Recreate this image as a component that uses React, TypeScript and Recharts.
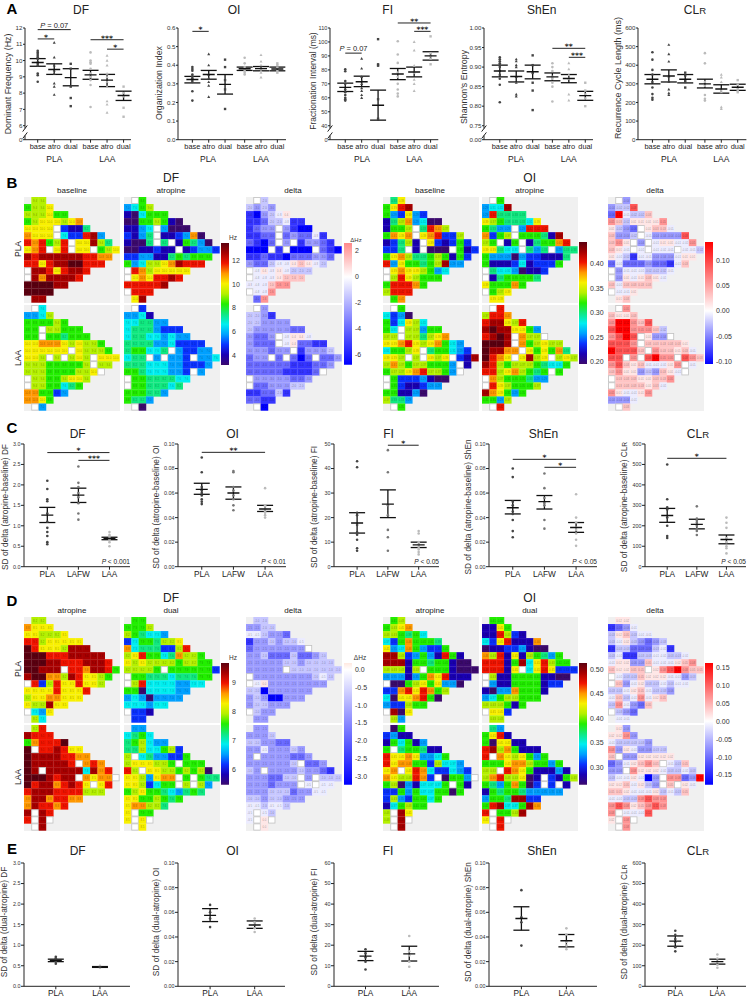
import React from "react";
import {
  ScatterChart,
  Scatter,
  XAxis,
  YAxis,
  ErrorBar,
  ReferenceLine,
  ReferenceDot,
  ReferenceArea,
} from "recharts";

const FONT = "'Liberation Sans', Arial, sans-serif";

// heatmap palettes, indexed by the level characters in the grids below
const JET = [
  "#3c0a6e", "#1a00b4", "#0a32ff", "#00a0ff", "#00eef0", "#10e880", "#22ee00",
  "#b4f000", "#f8f000", "#ff9800", "#f01400", "#a80000", "#5c0010",
];
const DIVERGE = [
  "#0000ff", "#3434ff", "#6a6aff", "#9a9aff", "#c6c6ff", "#ececff", "#ffe6e6",
  "#ffc4c4", "#ff9494", "#ff5454", "#ff0000",
];

// value printed in a cell for each level
const bDfValues = [4.0, 5.0, 6.0, 7.0, 7.6, 8.2, 8.8, 9.4, 10.0, 10.8, 11.6, 12.6, 13.2];
const dDfValues = [5.8, 6.2, 6.6, 7.0, 7.3, 7.6, 7.9, 8.2, 8.5, 8.8, 9.1, 9.4, 9.6];
const bOiValues = [0.21, 0.24, 0.26, 0.29, 0.31, 0.33, 0.35, 0.37, 0.39, 0.41, 0.42, 0.43, 0.44];
const dOiValues = [0.28, 0.3, 0.33, 0.35, 0.37, 0.39, 0.41, 0.43, 0.45, 0.46, 0.48, 0.49, 0.51];
const bDfDeltaValues = [-6.2, -5.0, -4.0, -3.0, -2.0, -0.8, 0.4, 1.0, 1.6, 2.0, 2.4];
const dDfDeltaValues = [-3.0, -2.6, -2.0, -1.5, -1.0, -0.5, 0.0, 0.1, 0.1, 0.2, 0.2];
const bOiDeltaValues = [-0.1, -0.08, -0.06, -0.04, -0.02, -0.01, 0.01, 0.03, 0.05, 0.08, 0.12];
const dOiDeltaValues = [-0.17, -0.13, -0.09, -0.06, -0.03, -0.01, 0.02, 0.05, 0.08, 0.11, 0.15];

// grids: '.' no electrode, 'w' empty electrode, otherwise a hex level
const bDfBasePla = [".77", "6778", "777866", "67888789", "8888w2115", "9888w422ab3", "a9a67aw88b75", "89aw8aw88w678", "babbbbbbaa99", "aa8abbccaaa", "wbba8abba", "wb9bbbba", "ccccbb", "cccc", ".bb"];
const bDfAtroPla = [".w6", "3467", "104666", "00667610", "1134w3000", "2135w112390", "1005w5w16530", "0011211w12332", "223311565666", "6347789baaa", "wa9788888", "w898aaba", "aaaaab", "waaa", ".8b"];
const bDfDeltaPla = [".w4", "4343", "103456", "11244511", "1233w3100", "1122w232251", "2102w3w13321", "000w1w000w210", "112110222332", "32245567654", "w56565444", "w5556777", "555788", "w558", ".28"];
const bDfBaseLaa = [".w4", "3347", "666676", "66w77666", "66w665666", "88999878776", "888888w87776", "887w7w787w888", "777666667w77", "7776666778w", "w77667887", "w7766456", "996623", "9986", ".w3"];
const bDfAtroLaa = [".w2", "3341", "445533", "45553222", "455443433", "55553342222", "566445w32233", "455w3w332w334", "555444332223", "665444332w3", "w66555544", "w6655545", "666553", "6553", ".w0"];
const bDfDeltaLaa = [".w3", "4431", "443333", "43333322", "3223w5665", "3222w562211", "333233w13334", "233w2w202w223", "222222111223", "2222211112w", "w33333223", "w2233344", "112241", "2211", ".w0"];
const bOiBasePla = [".58", "68ab", "632832", "15793400", "1667w5a97", "6989w89a227", "12571w821262", "225w1w000w612", "689755676162", "a3866567b33", "w89887634", "w7a87666", "6aaa96", "7aaa", ".69"];
const bOiAtroPla = [".w6", "344b", "3a5555", "87655548", "6533w3aaa", "9267w66651b", "76w16w15669a", "88544w535w355", "633303221115", "61112412226", "w54430112", "w1566665", "866696", "w678", ".88"];
const bOiDeltaPla = [".w3", "3449", "2a5447", "87466668", "6432w6775", "7334w533339", "786w3w566558", "765w5w555w554", "654155333566", "25222322157", "w35554445", "w3656765", "757777", "w556", ".67"];
const bOiBaseLaa = [".w6", "4230", "624874", "64w77366", "77w775789", "889a8789643", "46678w566432", "887w7w878w21b", "7976776663w1", "67789a7763w", "w62223100", "w6211233", "661130", "7553", ".w6"];
const bOiAtroLaa = [".wa", "7aa9", "abb87a", "bcbb8863", "abcbw977w", "cccbw967877", "cbb99w868695", "ca98w8b78w787", "ba7677765446", "aa7897656w6", "w97666533", "wa876667", "b98636", "6637", ".wa"];
const bOiDeltaLaa = [".w8", "7667", "8aa879", "9aa88874", "89a9w633w", "9998w777776", "a9997w877675", "99w8w9a88w987", "8976755568w5", "7866343765w", "w77766778", "w7777675", "865568", "3335", ".w7"];

const dDfAtroPla = [".77", "9888", "887778", "aa788888", "ca8887bbb", "cccaaabbbbb", "cccbbaaabbba", "ccbbbwaa9bba6", "bcc997ba8876", "wa27a88a887", "8888a888a", "78899888", "877b88", "w438", ".74"];
const dDfDualPla = [".66", "6667", "765443", "24665778", "94555227a", "78a66459776", "878777767766", "77776w6666662", "w66555455566", "w7a44443344", "660444433", "34303333", "444344", "w221", ".22"];
const dDfDeltaPla = [".44", "3344", "554332", "13343445", "23333333w", "33422242234", "333334434444", "33333w4444444", "w33333333454", "w5633333333", "440333333", "34300333", "344333", "w433", ".33"];
const dDfAtroLaa = [".7a", "baaa", "69aaac", "cwaaba88", "cbbbbaa99", "cbbbbbaw9a9", "cbwbbbbb4b9a", "cccbabbw9899w", "cabb9aba8w8a", "abbbaaaa777", "9bb9aa99", "9baa9a", "bwba", "awbw", ".wb"];
const dDfDualLaa = [".33", "4564", "567433", "55744672", "7w4533226", "7888776w666", "a7w887767670", "8873899w6w655", "8872466w7w73", "67866543565", "88667656", "899775", "8w66", "8w8w", ".w8"];
const dDfDeltaLaa = [".33", "3334", "443322", "33533343", "3w3333223", "3333334w223", "43w333343321", "3332244w3w444", "3332333w5w55", "33344423355", "44344333", "554554", "5w54", "5w6w", ".w6"];
const dOiAtroPla = [".67", "6789", "776564", "42696665", "834963226", "bb723631a61", "bbb166566100", "77717w6661000", "33313698a111", "w0067868330", "229a8a967", "40889a60", "322766", "wb08", ".73"];
const dOiDualPla = [".66", "1186", "11a721", "428a1119", "011223100", "97a18176536", "aaa16b48a766", "aaa18w48a8222", "w71166661100", "w3116666122", "103396661", "34677666", "777616", "w882", ".77"];
const dOiDeltaPla = [".66", "1235", "467455", "45643234", "144222451", "45114455445", "566337555678", "76677w689a877", "w54476665534", "w7356445455", "445675443", "57458567", "485327", "w432", ".55"];
const dOiAtroLaa = [".06", "2311", "164613", "6w566511", "a88983346", "a8996627443", "89w8a9422432", "9877a92w0663w", "670314446w61", "22636446606", "27326646", "146766", "7wb8", "7wbw", ".wb"];
const dOiDualLaa = [".53", "68a1", "608811", "ab796111", "aw9878636", "66689976636", "77wa98611131", "79a77801w2167", "65369602w2w1", "16566533333", "3665bb22", "6ab446b9", "aw667b", "8waw", ".wa"];
const dOiDeltaLaa = [".63", "6683", "544443", "83653344", "7w3366666", "2356787w547", "33w866654454", "4556503w8823a", "6675643w7w65", "77655564547", "55448988", "89867898", "8w5559", "6w8w", ".w8"];

// panel A: dots per group, then mean, upper and lower whisker
const aPositions = [1, 2, 3, 4.2, 5.2, 6.2];
const aLabels = ["base", "atro", "dual", "base", "atro", "dual"];
const aDfPoints = [
  [10.6, 10.5, 10.4, 10.3, 10.2, 10.1, 9.9, 9.8, 9.7, 9.2, 9.1, 8.7],
  [11.1, 10.2, 9.7, 9.4, 9.2, 8.6, 8.4, 7.9],
  [9.8, 9.5, 8.4, 7.7, 7.2],
  [10.5, 10, 9.9, 9.8, 9.5, 9.2, 9, 8.8, 8.5, 7.15],
  [10.3, 10, 9.7, 9.2, 9, 8.7, 8.4, 7.5, 7.3, 6.8],
  [8.4, 8, 7.8, 7.1, 6.55],
];
const aDfMean = [9.88, 9.45, 8.95, 9.12, 8.8, 7.85];
const aDfHigh = [10.12, 9.8, 9.5, 9.4, 9.15, 8.12];
const aDfLow = [9.65, 9.15, 8.45, 8.85, 8.4, 7.55];
const aOiPoints = [
  [0.39, 0.38, 0.37, 0.35, 0.34, 0.33, 0.32, 0.31, 0.26, 0.21],
  [0.46, 0.4, 0.35, 0.33, 0.31, 0.29, 0.23],
  [0.43, 0.39, 0.32, 0.27, 0.165],
  [0.44, 0.41, 0.39, 0.38, 0.37, 0.36, 0.35],
  [0.455, 0.42, 0.4, 0.38, 0.37, 0.36, 0.335],
  [0.41, 0.4, 0.385, 0.37, 0.36],
];
const aOiMean = [0.323, 0.35, 0.297, 0.381, 0.382, 0.38];
const aOiHigh = [0.34, 0.372, 0.35, 0.39, 0.393, 0.39];
const aOiLow = [0.305, 0.325, 0.245, 0.372, 0.37, 0.37];
const aFiPoints = [
  [80.5, 79, 72, 70, 66, 64, 62, 60, 59, 58],
  [88, 81, 75, 72, 70, 67, 65, 62, 60],
  [102, 84, 83, 59, 45],
  [100.5, 91, 85, 78, 75, 70, 66, 63, 61],
  [100, 94, 83, 78, 73, 70, 65],
  [104, 92, 90, 88, 84],
];
const aFiMean = [67.5, 71.5, 54.7, 77, 78.5, 90];
const aFiHigh = [70.5, 75.5, 65.5, 81, 82, 93];
const aFiLow = [64.5, 68, 44, 73, 75, 87];
const aShEnPoints = [
  [0.925, 0.92, 0.915, 0.91, 0.905, 0.9, 0.89, 0.88, 0.87, 0.855, 0.81],
  [0.92, 0.915, 0.905, 0.9, 0.875, 0.86, 0.83, 0.825],
  [0.93, 0.905, 0.885, 0.86, 0.84, 0.79],
  [0.91, 0.9, 0.89, 0.875, 0.87, 0.86, 0.85, 0.812],
  [0.91, 0.895, 0.88, 0.87, 0.83, 0.815],
  [0.86, 0.84, 0.83, 0.82, 0.8],
];
const aShEnMean = [0.89, 0.876, 0.888, 0.875, 0.871, 0.827];
const aShEnHigh = [0.905, 0.89, 0.905, 0.885, 0.881, 0.838];
const aShEnLow = [0.875, 0.862, 0.87, 0.865, 0.86, 0.815];
const aClrPoints = [
  [470, 430, 375, 350, 310, 280, 245, 225, 215],
  [510, 460, 420, 340, 310, 270, 250, 240],
  [360, 345, 320, 310, 280],
  [465, 410, 310, 290, 240, 220, 210],
  [350, 335, 310, 265, 255, 175, 165],
  [320, 295, 275, 265, 255],
];
const aClrMean = [325, 342, 325, 300, 272, 282];
const aClrHigh = [350, 375, 350, 325, 295, 298];
const aClrLow = [300, 310, 305, 278, 250, 265];

// panel C
const cPositions = [1, 2, 3];
const cLabels = ["PLA", "LAFW", "LAA"];
const cDfPoints = [
  [2.1, 1.9, 1.65, 1.6, 1.3, 1.1, 0.95, 0.85, 0.75, 0.6, 0.55],
  [2.45, 2.05, 1.95, 1.8, 1.7, 1.55, 1.3, 1.15],
  [0.85, 0.78, 0.75, 0.7, 0.68, 0.65, 0.6, 0.5],
];
const cDfMean = [1.26, 1.75, 0.69];
const cDfHigh = [1.45, 1.92, 0.72];
const cDfLow = [1.08, 1.57, 0.66];
const cOiPoints = [
  [0.089, 0.077, 0.065, 0.063, 0.062, 0.06, 0.058, 0.055, 0.053, 0.051],
  [0.078, 0.077, 0.065, 0.062, 0.058, 0.055, 0.05, 0.046],
  [0.064, 0.05, 0.049, 0.047, 0.045, 0.044, 0.042, 0.04],
];
const cOiMean = [0.063, 0.06, 0.047];
const cOiHigh = [0.068, 0.065, 0.05];
const cOiLow = [0.059, 0.055, 0.045];
const cFiPoints = [
  [43, 40.5, 22, 21, 17, 14, 13, 11, 7.5, 6.5],
  [47.5, 38.5, 25, 21, 15, 12, 6.5],
  [14.5, 13.5, 10, 9, 8, 7, 6, 5],
];
const cFiMean = [17.8, 25.5, 8.9];
const cFiHigh = [22, 31.3, 10];
const cFiLow = [13.7, 20, 7.8];
const cShEnPoints = [
  [0.08, 0.073, 0.053, 0.05, 0.045, 0.043, 0.038, 0.029, 0.024],
  [0.076, 0.064, 0.056, 0.052, 0.05, 0.038, 0.031],
  [0.059, 0.04, 0.036, 0.032, 0.03, 0.027, 0.022, 0.017],
];
const cShEnMean = [0.048, 0.053, 0.032];
const cShEnHigh = [0.054, 0.058, 0.036];
const cShEnLow = [0.043, 0.047, 0.028];
const cClrPoints = [
  [500, 330, 290, 280, 240, 200, 150, 140],
  [295, 235, 225, 215, 200, 185, 175, 155],
  [240, 215, 190, 140, 120, 100, 90, 65],
];
const cClrMean = [250, 207, 133];
const cClrHigh = [285, 232, 155];
const cClrLow = [217, 185, 112];

// panel E
const ePositions = [1, 2];
const eLabels = ["PLA", "LAA"];
const eDfPoints = [[0.72, 0.68, 0.65, 0.62, 0.6, 0.55], [0.5, 0.48, 0.47, 0.45]];
const eDfMean = [0.63, 0.47];
const eDfHigh = [0.66, 0.48];
const eDfLow = [0.6, 0.46];
const eOiPoints = [[0.066, 0.06, 0.055, 0.048], [0.055, 0.052, 0.05, 0.047, 0.044]];
const eOiMean = [0.0575, 0.0497];
const eOiHigh = [0.063, 0.053];
const eOiLow = [0.0525, 0.047];
const eFiPoints = [[18, 16, 14, 12, 8.2], [24.5, 17, 15, 12, 9.5]];
const eFiMean = [14.7, 15.8];
const eFiHigh = [17, 19.5];
const eFiLow = [12.5, 12.3];
const eShEnPoints = [[0.078, 0.056, 0.052, 0.033], [0.047, 0.042, 0.036, 0.033, 0.03]];
const eShEnMean = [0.055, 0.037];
const eShEnHigh = [0.0645, 0.042];
const eShEnLow = [0.0455, 0.032];
const eClrPoints = [[270, 250, 230, 215, 190, 170], [155, 135, 120, 105, 90]];
const eClrMean = [220, 120];
const eClrHigh = [245, 132];
const eClrLow = [195, 108];

const sdDfTicks = [0, 0.5, 1, 1.5, 2, 2.5, 3];
const sdOiTicks = [0, 0.02, 0.04, 0.06, 0.08, 0.1];
const sdFiTicks = [0, 10, 20, 30, 40, 50];
const sdClrTicks = [0, 100, 200, 300, 400, 500, 600];

const CLR = (
  <>
    CL<span style={{ fontSize: "80%" }}>R</span>
  </>
);

function Txt({ x, y, size = 8, bold = false, rotate = false, color = "#222", children }: any) {
  return (
    <div
      style={{
        position: "absolute",
        left: x,
        top: y,
        fontSize: size,
        fontWeight: bold ? 700 : 400,
        color,
        whiteSpace: "nowrap",
        lineHeight: 1,
        transform: `translate(-50%, -50%)${rotate ? " rotate(-90deg)" : ""}`,
      }}
    >
      {children}
    </div>
  );
}

function MeanLine(props: any) {
  const { cx, cy } = props;
  return <line x1={cx - 6} x2={cx + 6} y1={cy} y2={cy} stroke="#111" strokeWidth={1.4} />;
}

function marker(kind: string) {
  return (p: any) => {
    const { cx, cy, fill } = p;
    if (kind === "triangle") {
      return <path d={`M${cx} ${cy - 1.6}L${cx + 1.5} ${cy + 1.1}L${cx - 1.5} ${cy + 1.1}Z`} fill={fill} />;
    }
    if (kind === "square") {
      return <rect x={cx - 1.2} y={cy - 1.2} width={2.4} height={2.4} fill={fill} />;
    }
    return <circle cx={cx} cy={cy} r={1.3} fill={fill} />;
  };
}
const circleMark = marker("circle");
const triangleMark = marker("triangle");
const squareMark = marker("square");

function note(text: any, size: number, anchor = "middle", lift = 2, family = FONT, weight = 400) {
  return (p: any) => (
    <text
      x={p.cx}
      y={p.cy - lift}
      textAnchor={anchor as any}
      fontSize={size}
      fontWeight={weight}
      fill="#222"
      fontFamily={family}
    >
      {text}
    </text>
  );
}

const pEq = (
  <>
    <tspan fontStyle="italic">P</tspan> = 0.07
  </>
);
const pLess = (v: string) => (
  <>
    <tspan fontStyle="italic">P</tspan> {"<"} {v}
  </>
);

function DotPanel({
  left, right, top, bottom, domain, xDomain, ticks, digits, zero, positions, labels, points,
  mean, high, low, brackets = [], corner, tickSize = 6.5, labelSize = 7.5, markers, fills, tickLen = 3,
}: any) {
  const mTop = 20;
  const yw = 26;
  const plotH = bottom - top;
  const broken = zero !== undefined;
  const span = broken ? ticks[1] - ticks[0] : 0;
  const base = ticks[0];
  return (
    <div style={{ position: "absolute", left: left - yw, top: top - mTop }}>
      <ScatterChart
        width={right - left + yw + 4}
        height={mTop + plotH + 16}
        margin={{ top: mTop, right: 4, bottom: 0, left: 0 }}
        style={{ overflow: "visible" }}
      >
        <XAxis
          type="number"
          dataKey="x"
          domain={xDomain}
          ticks={positions}
          interval={0}
          tickFormatter={(v: number) => labels[positions.indexOf(v)]}
          tick={{ fontSize: labelSize, fill: "#222" }}
          tickSize={3}
          tickMargin={1}
          stroke="#222"
          height={16}
          allowDataOverflow
        />
        <YAxis
          type="number"
          dataKey="y"
          domain={domain}
          ticks={ticks}
          interval={0}
          width={yw}
          tickFormatter={(v: number) => (broken && v === base ? zero : v.toFixed(digits))}
          tick={{ fontSize: tickSize, fill: "#333" }}
          tickSize={tickLen}
          tickMargin={0.5}
          axisLine={!broken}
          stroke="#222"
          allowDataOverflow
        />
        {broken && (
          <ReferenceLine
            segment={[{ x: xDomain[0], y: base + span * 0.8 }, { x: xDomain[0], y: domain[1] }]}
            stroke="#222"
            ifOverflow="visible"
          />
        )}
        {broken && (
          <ReferenceLine
            segment={[{ x: xDomain[0], y: base }, { x: xDomain[0], y: base + span * 0.3 }]}
            stroke="#222"
            ifOverflow="visible"
          />
        )}
        {broken &&
          [0.3, 0.8].map((f) => (
            <ReferenceLine
              key={f}
              segment={[
                { x: xDomain[0] - 0.14 * ((xDomain[1] - xDomain[0]) / 6.4), y: base + span * (f - 0.22) },
                { x: xDomain[0] + 0.14 * ((xDomain[1] - xDomain[0]) / 6.4), y: base + span * (f + 0.22) },
              ]}
              stroke="#222"
              ifOverflow="visible"
            />
          ))}
        {points.map((vals: number[], g: number) => (
          <Scatter
            key={g}
            data={vals.map((y) => ({ x: positions[g], y }))}
            shape={markers ? markers[g] : circleMark}
            fill={fills[g]}
            isAnimationActive={false}
          />
        ))}
        <Scatter
          data={positions.map((x: number, i: number) => ({
            x,
            y: mean[i],
            err: [mean[i] - low[i], high[i] - mean[i]],
          }))}
          shape={MeanLine}
          isAnimationActive={false}
        >
          <ErrorBar dataKey="err" direction="y" width={8} stroke="#111" strokeWidth={1.3} isAnimationActive={false} />
        </Scatter>
        {brackets.map((b: any, i: number) => (
          <ReferenceLine
            key={i}
            segment={[{ x: b.from, y: b.y }, { x: b.to, y: b.y }]}
            stroke="#222"
            strokeWidth={1}
            ifOverflow="visible"
          />
        ))}
        {brackets.map((b: any, i: number) => (
          <ReferenceDot
            key={i}
            x={(b.from + b.to) / 2}
            y={b.y}
            r={0}
            ifOverflow="visible"
            shape={
              b.size
                ? note(b.text, b.size, "middle", b.lift ?? 2)
                : note(b.text, 7.6, "middle", -0.8, "'DejaVu Sans', sans-serif", 700)
            }
          />
        ))}
        {corner && (
          <ReferenceDot
            x={xDomain[1]}
            y={domain[0]}
            r={0}
            ifOverflow="visible"
            shape={note(corner, 6.6, "end", 3)}
          />
        )}
      </ScatterChart>
    </div>
  );
}

function Cell(props: any) {
  const { cx, cy, payload } = props;
  const { color, label } = payload;
  const w = payload.cw;
  const h = payload.ch;
  if (label === null) {
    return <rect x={cx - w / 2 + 0.4} y={cy - h / 2 + 0.4} width={w - 0.8} height={h - 0.8} fill="#fff" stroke="#c0c0c0" strokeWidth={0.8} />;
  }
  return (
    <g>
      <rect x={cx - w / 2} y={cy - h / 2} width={w + 0.2} height={h + 0.2} fill={color} />
      <text x={cx} y={cy + 1} textAnchor="middle" fontSize={2.8} fill="#000" fillOpacity={0.4} fontFamily={FONT}>
        {label}
      </text>
    </g>
  );
}

const PANEL_W = 95.5;
const PANEL_H = 105.5;

function Heatmap({ left, top, rows, palette, values, digits }: any) {
  const cw = PANEL_W / 13;
  const ch = PANEL_H / 15;
  const data: any[] = [];
  rows.forEach((row: string, r: number) => {
    row.split("").forEach((c: string, i: number) => {
      if (c === ".") return;
      const level = c === "w" ? -1 : parseInt(c, 16);
      data.push({
        col: i + 0.5,
        row: r + 0.5,
        cw,
        ch,
        color: level < 0 ? "#fff" : palette[level],
        label: level < 0 ? null : values[level].toFixed(digits),
      });
    });
  });
  return (
    <div style={{ position: "absolute", left, top, width: PANEL_W, height: PANEL_H, background: "#f0f0f0" }}>
      <ScatterChart width={PANEL_W} height={PANEL_H} margin={{ top: 0, right: 0, bottom: 0, left: 0 }}>
        <XAxis type="number" dataKey="col" domain={[0, 13]} hide />
        <YAxis type="number" dataKey="row" domain={[0, 15]} reversed hide />
        <Scatter data={data} shape={Cell} isAnimationActive={false} />
      </ScatterChart>
    </div>
  );
}

const noMark = () => null;

function ColorBar({ id, left, top, bottom, domain, ticks, digits, stops, colors }: any) {
  const stopList: any[] = stops ?? colors.map((c: string, i: number) => [1 - i / (colors.length - 1), c]).reverse();
  return (
    <div style={{ position: "absolute", left, top }}>
      <ScatterChart
        width={38}
        height={bottom - top}
        margin={{ top: 0, right: 0, bottom: 0, left: 0 }}
      >
        <defs>
          <linearGradient id={id} x1="0" y1="0" x2="0" y2="1">
            {stopList.map(([off, c]: any, i: number) => (
              <stop key={i} offset={off} stopColor={c} />
            ))}
          </linearGradient>
        </defs>
        <XAxis type="number" dataKey="x" domain={[0, 1]} hide />
        <YAxis
          type="number"
          dataKey="y"
          orientation="right"
          domain={domain}
          ticks={ticks}
          interval={0}
          width={30}
          axisLine={false}
          tickLine={false}
          tickSize={0}
          tickMargin={3}
          tickFormatter={(v: number) => v.toFixed(digits)}
          tick={{ fontSize: 7, fill: "#333" }}
        />
        <Scatter
          data={[{ x: 0, y: domain[0] }, { x: 1, y: domain[1] }]}
          shape={noMark}
          isAnimationActive={false}
        />
        <ReferenceArea x1={0} x2={1} y1={domain[0]} y2={domain[1]} fill={`url(#${id})`} fillOpacity={1} stroke="none" />
      </ScatterChart>
    </div>
  );
}

// vertical gradient stops for a delta scale, white at zero
function deltaStops(domain: number[], topColor: string) {
  const zero = domain[1] / (domain[1] - domain[0]);
  return [[0, topColor], [zero, "#ffffff"], [1, "#0000ff"]];
}

const aMarkers = [circleMark, triangleMark, squareMark, circleMark, triangleMark, squareMark];
const aFills = ["#444", "#444", "#444", "#bbb", "#bbb", "#bbb"];
const cFills = ["#444", "#777", "#bbb"];
const eFills = ["#444", "#bbb"];

const aX = { positions: aPositions, labels: aLabels, markers: aMarkers, fills: aFills, top: 27.6, bottom: 139.3, labelSize: 7.4, tickLen: 2, tickSize: 6.2 };
const cX = { positions: cPositions, labels: cLabels, fills: cFills, xDomain: [0.25, 3.66], top: 444, bottom: 566.7, tickSize: 5.4, labelSize: 8.3 };
const eX = { positions: ePositions, labels: eLabels, fills: eFills, xDomain: [0.28, 2.68], top: 862.7, bottom: 986, tickSize: 5.4, labelSize: 8.3 };

export default function App() {
  return (
    <div
      style={{
        position: "absolute",
        left: 0,
        top: 0,
        width: 752,
        height: 999,
        overflow: "hidden",
        background: "#fff",
        fontFamily: FONT,
      }}
    >
      {/* panel letters */}
      <Txt x={12} y={8} size={15} bold color="#000">A</Txt>
      <Txt x={12} y={182} size={15} bold color="#000">B</Txt>
      <Txt x={12} y={427} size={15} bold color="#000">C</Txt>
      <Txt x={12} y={600} size={15} bold color="#000">D</Txt>
      <Txt x={12} y={848} size={15} bold color="#000">E</Txt>

      {/* A */}
      {[["DF", 81], ["OI", 234], ["FI", 387.7], ["ShEn", 541.7], [CLR, 695]].map(([t, x]: any, i) => (
        <Txt key={i} x={x} y={10} size={12}>{t}</Txt>
      ))}
      {[54.3, 208, 362, 516, 669].map((x) => (
        <Txt key={x} x={x} y={159} size={8.5}>PLA</Txt>
      ))}
      {[107.3, 261, 414.3, 568.7, 721.3].map((x) => (
        <Txt key={x} x={x} y={159} size={8.5}>LAA</Txt>
      ))}
      <Txt x={8} y={84} size={8.8} rotate color="#333">Dominant Frequency (Hz)</Txt>
      <Txt x={159} y={83} size={8.8} rotate color="#333">Organization Index</Txt>
      <Txt x={312.5} y={81} size={8.4} rotate color="#333">Fractionation Interval (ms)</Txt>
      <Txt x={464} y={87} size={8.8} rotate color="#333">Shannon's Entropy</Txt>
      <Txt x={618} y={78} size={9} rotate color="#333">Recurrence Cycle Length (ms)</Txt>
      <DotPanel
        {...aX}
        left={25}
        right={131}
        domain={[5.14, 12]}
        xDomain={[0.23, 6.65]}
        ticks={[5.14, 6, 7, 8, 9, 10, 11, 12]}
        digits={0}
        zero="0"
        points={aDfPoints}
        mean={aDfMean}
        high={aDfHigh}
        low={aDfLow}
        brackets={[
          { from: 1, to: 3, y: 11.9, text: pEq, size: 7.5, lift: 2 },
          { from: 1, to: 2, y: 11.33, text: "*" },
          { from: 4.2, to: 6.2, y: 11.28, text: "***" },
          { from: 5.2, to: 6.2, y: 10.7, text: "*" },
        ]}
      />
      <DotPanel
        {...aX}
        left={178}
        right={286}
        domain={[0, 0.6]}
        xDomain={[0.12, 6.73]}
        ticks={[0, 0.1, 0.2, 0.3, 0.4, 0.5, 0.6]}
        digits={1}
        points={aOiPoints}
        mean={aOiMean}
        high={aOiHigh}
        low={aOiLow}
        brackets={[{ from: 1, to: 2, y: 0.582, text: "*" }]}
      />
      <DotPanel
        {...aX}
        left={330}
        right={438.3}
        domain={[30, 110]}
        xDomain={[0.07, 6.67]}
        ticks={[30, 40, 50, 60, 70, 80, 90, 100, 110]}
        digits={0}
        zero="0"
        tickSize={5.6}
        points={aFiPoints}
        mean={aFiMean}
        high={aFiHigh}
        low={aFiLow}
        brackets={[
          { from: 1, to: 2, y: 92, text: pEq, size: 7.5, lift: 2 },
          { from: 4.2, to: 6.2, y: 113.6, text: "**" },
          { from: 5.2, to: 6.2, y: 107.6, text: "***" },
        ]}
      />
      <DotPanel
        {...aX}
        left={484.3}
        right={593.3}
        domain={[0.7143, 1]}
        xDomain={[0.04, 6.67]}
        ticks={[0.7143, 0.75, 0.8, 0.85, 0.9, 0.95, 1]}
        digits={2}
        zero="0.00"
        points={aShEnPoints}
        mean={aShEnMean}
        high={aShEnHigh}
        low={aShEnLow}
        brackets={[
          { from: 4.2, to: 6.2, y: 0.948, text: "**" },
          { from: 5.2, to: 6.2, y: 0.925, text: "***" },
        ]}
      />
      <DotPanel
        {...aX}
        left={638.3}
        right={746.7}
        domain={[0, 600]}
        xDomain={[0.12, 6.73]}
        ticks={[0, 100, 200, 300, 400, 500, 600]}
        digits={0}
        points={aClrPoints}
        mean={aClrMean}
        high={aClrHigh}
        low={aClrLow}
      />

      {/* B */}
      <Txt x={171} y={178} size={12}>DF</Txt>
      <Txt x={529.7} y={178} size={12}>OI</Txt>
      {[["baseline", 72], ["atropine", 171], ["delta", 293], ["baseline", 430], ["atropine", 529.7], ["delta", 655]].map(([t, x]: any, i) => (
        <Txt key={i} x={x} y={190.7} size={8}>{t}</Txt>
      ))}
      <Txt x={17.7} y={249.3} size={8.5} rotate>PLA</Txt>
      <Txt x={17.7} y={357.7} size={8.5} rotate>LAA</Txt>
      <Heatmap left={24.3} top={197} rows={bDfBasePla} palette={JET} values={bDfValues} digits={1} />
      <Heatmap left={124} top={197} rows={bDfAtroPla} palette={JET} values={bDfValues} digits={1} />
      <Heatmap left={246} top={197} rows={bDfDeltaPla} palette={DIVERGE} values={bDfDeltaValues} digits={1} />
      <Heatmap left={24.3} top={305} rows={bDfBaseLaa} palette={JET} values={bDfValues} digits={1} />
      <Heatmap left={124} top={305} rows={bDfAtroLaa} palette={JET} values={bDfValues} digits={1} />
      <Heatmap left={246} top={305} rows={bDfDeltaLaa} palette={DIVERGE} values={bDfDeltaValues} digits={1} />
      <Heatmap left={383} top={197} rows={bOiBasePla} palette={JET} values={bOiValues} digits={2} />
      <Heatmap left={482} top={197} rows={bOiAtroPla} palette={JET} values={bOiValues} digits={2} />
      <Heatmap left={608} top={197} rows={bOiDeltaPla} palette={DIVERGE} values={bOiDeltaValues} digits={2} />
      <Heatmap left={383} top={305} rows={bOiBaseLaa} palette={JET} values={bOiValues} digits={2} />
      <Heatmap left={482} top={305} rows={bOiAtroLaa} palette={JET} values={bOiValues} digits={2} />
      <Heatmap left={608} top={305} rows={bOiDeltaLaa} palette={DIVERGE} values={bOiDeltaValues} digits={2} />
      <Txt x={233} y={238} size={6.5} color="#333">Hz</Txt>
      <Txt x={356} y={240} size={6} color="#333">ΔHz</Txt>
      <ColorBar id="bDf" left={221} top={242.7} bottom={364.7} domain={[3.18, 13.46]} ticks={[4, 6, 8, 10, 12]} digits={0} colors={JET} />
      <ColorBar id="bDfD" left={343.7} top={243} bottom={364.7} domain={[-6.75, 2.6]} ticks={[-6, -4, -2, 0, 2]} digits={0} stops={deltaStops([-6.75, 2.6], "#ff8a8a")} />
      <ColorBar id="bOi" left={579.3} top={241.7} bottom={363.7} domain={[0.195, 0.444]} ticks={[0.2, 0.25, 0.3, 0.35, 0.4]} digits={2} colors={JET} />
      <ColorBar id="bOiD" left={704.7} top={241.7} bottom={363.7} domain={[-0.105, 0.136]} ticks={[-0.1, -0.05, 0, 0.05, 0.1]} digits={2} stops={deltaStops([-0.105, 0.136], "#ff0000")} />

      {/* C */}
      {[["DF", 77.7], ["OI", 232.6], ["FI", 388.5], ["ShEn", 543.4], [CLR, 698]].map(([t, x]: any, i) => (
        <Txt key={i} x={x} y={434} size={12}>{t}</Txt>
      ))}
      <Txt x={5} y={507} size={8.3} rotate color="#333">SD of delta (atropine-baseline) DF</Txt>
      <Txt x={156} y={507} size={8.3} rotate color="#333">SD of delta (atropine-baseline) OI</Txt>
      <Txt x={314} y={507} size={8.3} rotate color="#333">SD of delta (atropine-baseline) FI</Txt>
      <Txt x={468} y={507} size={8.3} rotate color="#333">SD of delta (atropine-baseline) ShEn</Txt>
      <Txt x={623.5} y={507} size={8.3} rotate color="#333">SD of delta (atropine-baseline) {CLR}</Txt>
      <DotPanel {...cX} left={24} right={130} domain={[0, 3]} ticks={sdDfTicks} digits={1} points={cDfPoints} mean={cDfMean} high={cDfHigh} low={cDfLow} corner={pLess("0.001")}
        brackets={[{ from: 1, to: 3, y: 2.79, text: "*" }, { from: 2, to: 3, y: 2.6, text: "***" }]} />
      <DotPanel {...cX} left={178} right={286} domain={[0, 0.1]} ticks={sdOiTicks} digits={2} points={cOiPoints} mean={cOiMean} high={cOiHigh} low={cOiLow} corner={pLess("0.01")}
        brackets={[{ from: 1, to: 3, y: 0.0932, text: "**" }]} />
      <DotPanel {...cX} left={334} right={439} domain={[0, 50]} ticks={sdFiTicks} digits={0} points={cFiPoints} mean={cFiMean} high={cFiHigh} low={cFiLow} corner={pLess("0.05")}
        brackets={[{ from: 2, to: 3, y: 49.5, text: "*" }]} />
      <DotPanel {...cX} left={489} right={597} domain={[0, 0.1]} ticks={sdOiTicks} digits={2} points={cShEnPoints} mean={cShEnMean} high={cShEnHigh} low={cShEnLow} corner={pLess("0.05")}
        brackets={[{ from: 1, to: 3, y: 0.0875, text: "*" }, { from: 2, to: 3, y: 0.081, text: "*" }]} />
      <DotPanel {...cX} left={645} right={746} domain={[0, 600]} ticks={sdClrTicks} digits={0} points={cClrPoints} mean={cClrMean} high={cClrHigh} low={cClrLow} corner={pLess("0.05")}
        brackets={[{ from: 1, to: 3, y: 530, text: "*" }]} />

      {/* D */}
      <Txt x={171} y={597.7} size={12}>DF</Txt>
      <Txt x={529.7} y={597.7} size={12}>OI</Txt>
      {[["atropine", 72], ["dual", 171], ["delta", 293], ["atropine", 430], ["dual", 529.7], ["delta", 655]].map(([t, x]: any, i) => (
        <Txt key={i} x={x} y={610.7} size={8}>{t}</Txt>
      ))}
      <Txt x={17.7} y={669.3} size={8.5} rotate>PLA</Txt>
      <Txt x={17.7} y={776.7} size={8.5} rotate>LAA</Txt>
      <Heatmap left={24.3} top={617} rows={dDfAtroPla} palette={JET} values={dDfValues} digits={1} />
      <Heatmap left={124} top={617} rows={dDfDualPla} palette={JET} values={dDfValues} digits={1} />
      <Heatmap left={246} top={617} rows={dDfDeltaPla} palette={DIVERGE} values={dDfDeltaValues} digits={1} />
      <Heatmap left={24.3} top={725} rows={dDfAtroLaa} palette={JET} values={dDfValues} digits={1} />
      <Heatmap left={124} top={725} rows={dDfDualLaa} palette={JET} values={dDfValues} digits={1} />
      <Heatmap left={246} top={725} rows={dDfDeltaLaa} palette={DIVERGE} values={dDfDeltaValues} digits={1} />
      <Heatmap left={383} top={617} rows={dOiAtroPla} palette={JET} values={dOiValues} digits={2} />
      <Heatmap left={482} top={617} rows={dOiDualPla} palette={JET} values={dOiValues} digits={2} />
      <Heatmap left={608} top={617} rows={dOiDeltaPla} palette={DIVERGE} values={dOiDeltaValues} digits={2} />
      <Heatmap left={383} top={725} rows={dOiAtroLaa} palette={JET} values={dOiValues} digits={2} />
      <Heatmap left={482} top={725} rows={dOiDualLaa} palette={JET} values={dOiValues} digits={2} />
      <Heatmap left={608} top={725} rows={dOiDeltaLaa} palette={DIVERGE} values={dOiDeltaValues} digits={2} />
      <Txt x={233} y={658} size={6.5} color="#333">Hz</Txt>
      <Txt x={360} y={658} size={6.5} color="#333">ΔHz</Txt>
      <ColorBar id="dDf" left={221} top={663} bottom={784.7} domain={[5.47, 9.66]} ticks={[6, 7, 8, 9]} digits={0} colors={JET} />
      <ColorBar id="dDfD" left={343.7} top={663} bottom={784.7} domain={[-3.24, 0.19]} ticks={[-3, -2.5, -2, -1.5, -1, -0.5, 0]} digits={1} stops={deltaStops([-3.24, 0.19], "#ffe8e0")} />
      <ColorBar id="dOi" left={579} top={663} bottom={784.7} domain={[0.2645, 0.513]} ticks={[0.3, 0.35, 0.4, 0.45, 0.5]} digits={2} colors={JET} />
      <ColorBar id="dOiD" left={704.7} top={663} bottom={784.7} domain={[-0.177, 0.162]} ticks={[-0.15, -0.1, -0.05, 0, 0.05, 0.1, 0.15]} digits={2} stops={deltaStops([-0.177, 0.162], "#ff0000")} />

      {/* E */}
      {[["DF", 77.7], ["OI", 232.6], ["FI", 388], ["ShEn", 542], [CLR, 698]].map(([t, x]: any, i) => (
        <Txt key={i} x={x} y={851} size={12}>{t}</Txt>
      ))}
      <Txt x={4} y={922} size={8.3} rotate color="#333">SD of delta (dual-atropine) DF</Txt>
      <Txt x={156} y={922} size={8.3} rotate color="#333">SD of delta (dual-atropine) OI</Txt>
      <Txt x={314} y={922} size={8.3} rotate color="#333">SD of delta (dual-atropine) FI</Txt>
      <Txt x={468} y={922} size={8.3} rotate color="#333">SD of delta (dual-atropine) ShEn</Txt>
      <Txt x={623.5} y={922} size={8.3} rotate color="#333">SD of delta (dual-atropine) {CLR}</Txt>
      <DotPanel {...eX} left={24} right={130} domain={[0, 3]} ticks={sdDfTicks} digits={1} points={eDfPoints} mean={eDfMean} high={eDfHigh} low={eDfLow} />
      <DotPanel {...eX} left={178} right={285} domain={[0, 0.1]} ticks={sdOiTicks} digits={2} points={eOiPoints} mean={eOiMean} high={eOiHigh} low={eOiLow} />
      <DotPanel {...eX} left={334} right={439} domain={[0, 60]} ticks={[0, 10, 20, 30, 40, 50, 60]} digits={0} points={eFiPoints} mean={eFiMean} high={eFiHigh} low={eFiLow} />
      <DotPanel {...eX} left={489} right={597} domain={[0, 0.1]} ticks={sdOiTicks} digits={2} points={eShEnPoints} mean={eShEnMean} high={eShEnHigh} low={eShEnLow} />
      <DotPanel {...eX} left={645} right={746} domain={[0, 600]} ticks={sdClrTicks} digits={0} points={eClrPoints} mean={eClrMean} high={eClrHigh} low={eClrLow} />
    </div>
  );
}
